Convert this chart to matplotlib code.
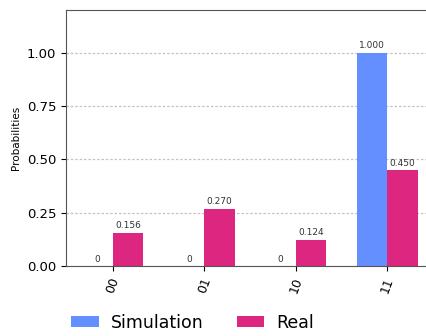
import numpy as np
import matplotlib
matplotlib.use("Agg")
import matplotlib.pyplot as plt

states = ["00", "01", "10", "11"]
simulation = [0.0, 0.0, 0.0, 1.000]
real = [0.156, 0.270, 0.124, 0.450]
yticks = [0.00, 0.25, 0.50, 0.75, 1.00]

blue = "#648fff"
pink = "#dc267f"

fig = plt.figure(figsize=(4.26, 3.36), dpi=100)
ax = fig.add_axes([0.155, 0.208, 0.87, 0.762])

width = 1 / 3
x = np.arange(len(states))
ax.bar(x - width / 2, simulation, width, color=blue, label="Simulation", zorder=2)
ax.bar(x + width / 2, real, width, color=pink, label="Real", zorder=2)

def label_value(xpos, val):
    txt = "0" if val == 0 else f"{val:.3f}"
    ax.text(xpos, val + 0.012, txt, ha="center", va="bottom", fontsize=6.5, color="#333333")

for xi, s, r in zip(x, simulation, real):
    label_value(xi - width / 2, s)
    label_value(xi + width / 2, r)

ax.set_xlim(-0.51, 3.54)
ax.set_ylim(0, 1.2)
ax.set_yticks(yticks)
ax.set_yticklabels([f"{t:.2f}" for t in yticks], fontsize=9.5)
ax.set_xticks(x)
ax.set_xticklabels(states, rotation=70, fontsize=9)
ax.set_ylabel("Probabilities", fontsize=7.5)
ax.yaxis.grid(True, color="#c4c4c4", linestyle=(0, (2, 1.5)), linewidth=0.9, zorder=0)
for sp in ax.spines.values():
    sp.set_color("#555555")

handles, labels = ax.get_legend_handles_labels()
fig.legend(handles, labels, loc="center left", bbox_to_anchor=(0.13, 0.04),
           ncol=2, frameon=False, fontsize=12.5, handlelength=1.6, handleheight=0.65,
           columnspacing=1.9, handletextpad=0.7)

fig.savefig("out.png", dpi=100)
